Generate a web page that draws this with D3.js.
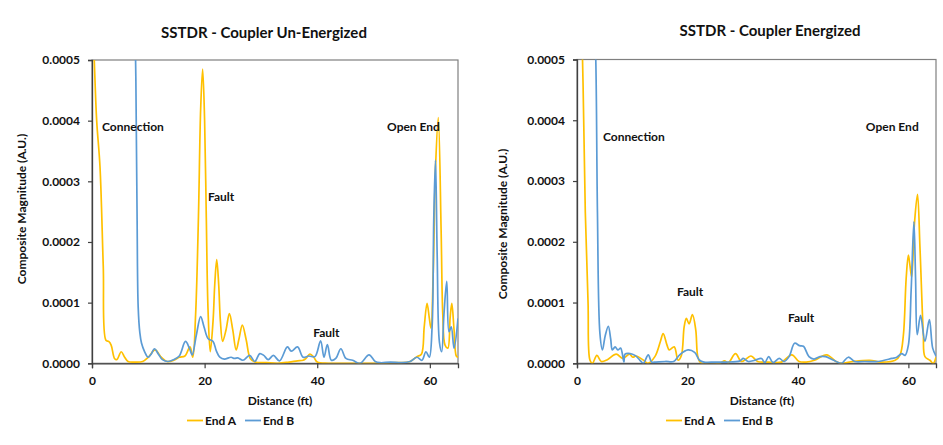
<!DOCTYPE html>
<html>
<head>
<meta charset="utf-8">
<script src="https://cdn.jsdelivr.net/npm/d3@7"></script>
<style>
  html, body { margin: 0; padding: 0; background: #fff; }
  svg { display: block; }
  text { font-family: Lato, "Open Sans", sans-serif; font-weight: bold; fill: #111; }
</style>
</head>
<body>
<svg id="chart" width="943" height="445"></svg>
<script>
// ---------------- DATA ----------------
const seriesNames = ["End A", "End B"];
const xTickValues = [0, 20, 40, 60];
const yTickValues = [0, 0.0001, 0.0002, 0.0003, 0.0004, 0.0005];
const yTickLabels = ["0.0000", "0.0001", "0.0002", "0.0003", "0.0004", "0.0005"];
const panelTitles = ["SSTDR - Coupler Un-Energized", "SSTDR - Coupler Energized"];
const xAxisTitle = "Distance (ft)";
const yAxisTitle = "Composite Magnitude (A.U.)";

// Un-Energized, End A
const distUnA = [0, 0.4, 0.83, 1.42, 2.0, 2.47, 2.96, 3.4, 4.0, 4.4, 5.2, 5.8, 6.4, 7.5, 9.0, 10.0, 11.2, 12.3, 13.3, 14.5, 15.5, 16.5, 17.4, 17.9, 18.4, 18.9, 19.3, 19.65, 20.0, 20.3, 20.6, 21.0, 21.5, 21.8, 22.15, 22.5, 22.8, 23.2, 23.8, 24.4, 25.0, 25.6, 26.1, 26.7, 27.4, 28.1, 29.0, 31, 33, 35, 36.5, 37.5, 38.0, 38.7, 39.4, 40.0, 42, 45, 48, 51, 54, 56.5, 57.7, 58.5, 59.0, 59.5, 59.9, 60.2, 60.6, 61.0, 61.5, 62.0, 62.3, 62.7, 63.2, 63.6, 63.9, 64.3, 64.7, 65];
const magUnA = [6.0e-4, 5.0e-4, 4.0e-4, 3.24e-4, 1.6e-4, 0.38e-4, 0.36e-4, 0.3e-4, 0.08e-4, 0.06e-4, 0.19e-4, 0.1e-4, 0.03e-4, 0.02e-4, 0.03e-4, 0.1e-4, 0.22e-4, 0.1e-4, 0.03e-4, 0.05e-4, 0.1e-4, 0.12e-4, 0.27e-4, 0.1e-4, 0.8e-4, 2.4e-4, 4.2e-4, 4.85e-4, 4.0e-4, 2.4e-4, 0.9e-4, 0.19e-4, 0.7e-4, 1.3e-4, 1.71e-4, 1.3e-4, 0.7e-4, 0.36e-4, 0.55e-4, 0.82e-4, 0.55e-4, 0.22e-4, 0.4e-4, 0.63e-4, 0.38e-4, 0.08e-4, 0.02e-4, 0.01e-4, 0.0, 0.02e-4, 0.04e-4, 0.05e-4, 0.08e-4, 0.15e-4, 0.1e-4, 0.02e-4, 0.0, 0.0, 0.0, 0.0, 0.01e-4, 0.03e-4, 0.11e-4, 0.15e-4, 0.6e-4, 0.99e-4, 0.75e-4, 0.58e-4, 1.5e-4, 3.2e-4, 4.05e-4, 2.2e-4, 0.8e-4, 0.3e-4, 0.25e-4, 0.75e-4, 0.99e-4, 0.55e-4, 0.12e-4, 0.1e-4];

// Un-Energized, End B
const distUnB = [0, 7.0, 7.74, 8.0, 8.2, 8.5, 8.8, 9.35, 9.95, 10.5, 11.1, 11.8, 12.5, 13.5, 14.5, 15.5, 16.6, 17.3, 17.8, 18.5, 19.3, 19.9, 20.6, 21.5, 22.1, 22.7, 23.5, 24.7, 25.3, 25.9, 26.8, 28.0, 28.9, 29.8, 30.5, 31.3, 32.2, 33.3, 34.7, 35.4, 36.5, 37.5, 38.5, 39.6, 40.6, 41.2, 41.8, 42.5, 43.3, 44.2, 45.1, 46.3, 47.6, 49.2, 50.3, 51.2, 53, 55, 56.5, 57.7, 58.6, 59.3, 59.9, 60.4, 60.7, 61.0, 61.3, 61.7, 62.1, 62.5, 63.0, 63.4, 63.8, 64.3, 65];
const magUnB = [9.0e-4, 8.0e-4, 5.0e-4, 2.5e-4, 0.93e-4, 0.5e-4, 0.33e-4, 0.19e-4, 0.1e-4, 0.15e-4, 0.24e-4, 0.15e-4, 0.06e-4, 0.03e-4, 0.06e-4, 0.12e-4, 0.36e-4, 0.25e-4, 0.14e-4, 0.45e-4, 0.77e-4, 0.6e-4, 0.41e-4, 0.36e-4, 0.2e-4, 0.1e-4, 0.07e-4, 0.1e-4, 0.08e-4, 0.09e-4, 0.05e-4, 0.13e-4, 0.03e-4, 0.16e-4, 0.13e-4, 0.06e-4, 0.13e-4, 0.04e-4, 0.27e-4, 0.2e-4, 0.27e-4, 0.1e-4, 0.12e-4, 0.11e-4, 0.37e-4, 0.1e-4, 0.31e-4, 0.05e-4, 0.08e-4, 0.24e-4, 0.08e-4, 0.05e-4, 0.0, 0.14e-4, 0.03e-4, 0.01e-4, 0.02e-4, 0.01e-4, 0.03e-4, 0.1e-4, 0.05e-4, 0.19e-4, 0.1e-4, 0.6e-4, 2.4e-4, 3.35e-4, 1.8e-4, 0.35e-4, 0.19e-4, 0.8e-4, 1.35e-4, 0.52e-4, 0.6e-4, 0.25e-4, 0.74e-4];

// Energized, End A
const distEnA = [0, 1.0, 1.5, 2.0, 2.35, 2.8, 3.6, 4.4, 5.5, 7.1, 8.3, 9.5, 10.1, 10.7, 12.2, 12.8, 14.1, 15.1, 15.6, 16.3, 16.7, 17.6, 18.3, 18.9, 19.4, 19.8, 20.3, 20.9, 21.5, 21.9, 22.5, 25.8, 26.7, 27.4, 28.7, 29.8, 31.5, 32.7, 34.6, 37, 38.9, 40.2, 41.5, 43.0, 45.2, 46.9, 47.9, 50, 53, 55, 57.6, 58.5, 59.1, 59.6, 60.0, 60.3, 60.6, 61.1, 61.65, 62.1, 62.7, 63.0, 63.9, 64.5, 65];
const magEnA = [8.0e-4, 5.0e-4, 2.5e-4, 1.0e-4, 0.05e-4, 0.0, 0.13e-4, 0.03e-4, 0.06e-4, 0.15e-4, 0.08e-4, 0.15e-4, 0.1e-4, 0.12e-4, 0.04e-4, 0.0, 0.11e-4, 0.36e-4, 0.49e-4, 0.3e-4, 0.22e-4, 0.27e-4, 0.05e-4, 0.13e-4, 0.6e-4, 0.74e-4, 0.65e-4, 0.8e-4, 0.55e-4, 0.1e-4, 0.0, 0.0, 0.04e-4, 0.01e-4, 0.16e-4, 0.03e-4, 0.12e-4, 0.03e-4, 0.02e-4, 0.02e-4, 0.14e-4, 0.03e-4, 0.02e-4, 0.05e-4, 0.14e-4, 0.03e-4, 0.0, 0.03e-4, 0.05e-4, 0.02e-4, 0.05e-4, 0.14e-4, 0.47e-4, 1.4e-4, 1.78e-4, 1.6e-4, 1.42e-4, 2.3e-4, 2.78e-4, 1.9e-4, 0.49e-4, 0.11e-4, 0.05e-4, 0.0, 0.1e-4];

// Energized, End B
const distEnB = [0, 3.0, 3.4, 3.7, 4.15, 4.6, 5.1, 5.67, 6.1, 6.4, 6.9, 7.4, 7.9, 8.5, 8.7, 9.6, 10.5, 11.4, 12.0, 12.9, 13.5, 14.0, 16, 17.5, 18.6, 20.1, 21.3, 22.2, 23.0, 25, 27, 29.5, 30.1, 31, 32.2, 33.4, 34.0, 34.7, 35.5, 36.6, 37.5, 38.4, 39.4, 40.3, 41.0, 42.0, 42.9, 44, 45.0, 46.0, 46.9, 47.9, 49.1, 50.3, 52.1, 54.5, 57.0, 57.9, 58.8, 59.4, 60.0, 60.5, 61.0, 61.3, 61.6, 62.2, 63.0, 63.8, 64.4, 65];
const magEnB = [9.0e-4, 6.0e-4, 5.0e-4, 2.5e-4, 0.49e-4, 0.22e-4, 0.45e-4, 0.61e-4, 0.4e-4, 0.22e-4, 0.27e-4, 0.22e-4, 0.25e-4, 0.02e-4, 0.15e-4, 0.16e-4, 0.13e-4, 0.05e-4, 0.0, 0.14e-4, 0.02e-4, 0.02e-4, 0.03e-4, 0.03e-4, 0.14e-4, 0.22e-4, 0.18e-4, 0.05e-4, 0.02e-4, 0.02e-4, 0.02e-4, 0.04e-4, 0.08e-4, 0.03e-4, 0.05e-4, 0.08e-4, 0.01e-4, 0.11e-4, 0.01e-4, 0.08e-4, 0.03e-4, 0.11e-4, 0.33e-4, 0.29e-4, 0.28e-4, 0.11e-4, 0.07e-4, 0.11e-4, 0.11e-4, 0.07e-4, 0.03e-4, 0.0, 0.1e-4, 0.03e-4, 0.03e-4, 0.03e-4, 0.08e-4, 0.1e-4, 0.16e-4, 0.13e-4, 0.3e-4, 1.2e-4, 2.33e-4, 1.4e-4, 0.47e-4, 0.79e-4, 0.36e-4, 0.72e-4, 0.25e-4, 0.12e-4];

// Annotations (data coordinates: distance, magnitude)
const annUnLabels = ["Connection", "Fault", "Fault", "Open End"];
const annUnDist = [1.78, 20.6, 39.3, 52.4];
const annUnMag = [3.9e-4, 2.74e-4, 0.5e-4, 3.9e-4];
const annEnLabels = ["Connection", "Fault", "Fault", "Open End"];
const annEnDist = [4.7, 18.1, 38.2, 52.3];
const annEnMag = [3.72e-4, 1.17e-4, 0.75e-4, 3.89e-4];

// ---------------- LAYOUT ----------------
const colors = ["#FFC000", "#5B9BD5"];
const panels = [
  { title: panelTitles[0], left: 92, right: 458, top: 60, bottom: 363.3, titleX: 264, titleY: 38, ylabX: 22, ylabY: 209, xlabX: 280, legendX: 187,
    series: [[distUnA, magUnA], [distUnB, magUnB]], ann: [annUnLabels, annUnDist, annUnMag] },
  { title: panelTitles[1], left: 577, right: 936, top: 59.5, bottom: 363.3, titleX: 770, titleY: 36, ylabX: 503, ylabY: 224, xlabX: 762, legendX: 666,
    series: [[distEnA, magEnA], [distEnB, magEnB]], ann: [annEnLabels, annEnDist, annEnMag] }
];

const svg = d3.select("#chart");

panels.forEach((p, pi) => {
  const x = d3.scaleLinear().domain([0, 65]).range([p.left, p.right]);
  const y = d3.scaleLinear().domain([0, 0.0005]).range([p.bottom, p.top]);
  const g = svg.append("g");

  const clipId = "clip" + pi;
  svg.append("defs").append("clipPath").attr("id", clipId)
    .append("rect").attr("x", p.left).attr("y", p.top)
    .attr("width", p.right - p.left).attr("height", p.bottom - p.top);

  // plot border (top/right)
  g.append("rect").attr("x", p.left).attr("y", p.top)
    .attr("width", p.right - p.left).attr("height", p.bottom - p.top)
    .attr("fill", "none").attr("stroke", "#7f7f7f").attr("stroke-width", 1.2);

  // axes
  const yAxis = d3.axisLeft(y).tickValues(yTickValues)
    .tickFormat((d, i) => yTickLabels[i]).tickSize(4).tickPadding(8);
  const yg = g.append("g").attr("transform", `translate(${p.left},0)`).call(yAxis);
  const xAxis = d3.axisBottom(x).tickValues(xTickValues).tickSize(5).tickPadding(8);
  const xg = g.append("g").attr("transform", `translate(0,${p.bottom})`).call(xAxis);
  [yg, xg].forEach(a => {
    a.select(".domain").attr("stroke", "#404040").attr("stroke-width", 1.3);
    a.selectAll(".tick line").attr("stroke", "#404040").attr("stroke-width", 1.2);
    a.selectAll(".tick text").style("font-family", "Lato, sans-serif").style("font-weight", "bold")
      .style("font-size", "12px").attr("fill", "#111");
  });

  // lines
  const line = d3.line().x(d => x(d[0])).y(d => y(d[1])).curve(d3.curveCatmullRom.alpha(0.5));
  const lg = g.append("g").attr("clip-path", `url(#${clipId})`);
  p.series.forEach((s, si) => {
    const pts = s[0].map((d, i) => [d, s[1][i]]);
    lg.append("path").datum(pts).attr("d", line)
      .attr("fill", "none").attr("stroke", colors[si]).attr("stroke-width", 1.7);
  });

  // annotations
  p.ann[0].forEach((lab, i) => {
    g.append("text").attr("x", x(p.ann[1][i])).attr("y", y(p.ann[2][i]))
      .attr("dy", "0.35em").style("font-size", "12px").text(lab);
  });

  // title
  g.append("text").attr("x", p.titleX).attr("y", p.titleY).attr("text-anchor", "middle")
    .style("font-size", "15px").text(p.title);
  // axis titles
  g.append("text").attr("x", p.xlabX).attr("y", 404.5).attr("text-anchor", "middle")
    .style("font-size", "12px").text(xAxisTitle);
  g.append("text").attr("transform", `translate(${p.ylabX},${p.ylabY}) rotate(-90)`)
    .attr("text-anchor", "middle").attr("dy", "0.35em").style("font-size", "12px").text(yAxisTitle);

  // legend
  let lx = p.legendX;
  seriesNames.forEach((n, si) => {
    g.append("line").attr("x1", lx).attr("x2", lx + 16).attr("y1", 420.5).attr("y2", 420.5)
      .attr("stroke", colors[si]).attr("stroke-width", 1.8);
    g.append("text").attr("x", lx + 18).attr("y", 420.5).attr("dy", "0.35em")
      .style("font-size", "12px").text(n);
    lx = lx + 58;
  });
});
</script>
</body>
</html>
